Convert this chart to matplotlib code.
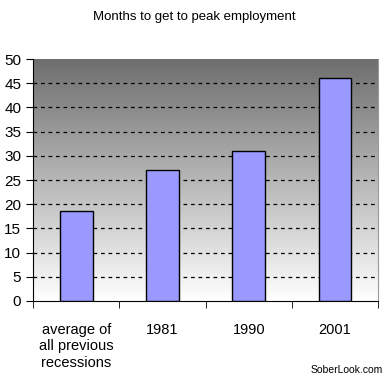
import matplotlib

matplotlib.use("Agg")
import matplotlib.pyplot as plt
import numpy as np
from matplotlib.colors import LinearSegmentedColormap

categories = ["average of\nall previous\nrecessions", "1981", "1990", "2001"]
months = [18.5, 27, 31, 46]
yticks = list(range(0, 55, 5))

plt.rcParams["font.family"] = ["Liberation Sans", "DejaVu Sans"]

fig = plt.figure(figsize=(3.89, 3.81), dpi=100)
ax = fig.add_axes([0.085, 0.21, 0.887, 0.635])

# background gradient, dark grey at top fading to white
cmap = LinearSegmentedColormap.from_list("bg", ["#ffffff", "#6e6e6e"])
grad = np.linspace(0, 1, 256).reshape(-1, 1)
ax.imshow(grad, cmap=cmap, aspect="auto", origin="lower",
          extent=[-0.5, 3.5, 0, 50], zorder=0)

x = np.arange(len(categories))
ax.bar(x, months, width=0.38, color="#9999ff", edgecolor="black",
       linewidth=1, zorder=3)

for y in yticks[1:-1]:
    ax.axhline(y, color="black", linestyle=(0, (3, 3)), linewidth=0.9, zorder=2)

ax.set_xlim(-0.5, 3.5)
ax.set_ylim(0, 50)
ax.set_yticks(yticks)
ax.set_xticks(x)
ax.set_xticklabels(categories)
ax.set_xticks(np.arange(-0.5, 4, 1), minor=True)
ax.tick_params(axis="x", which="major", length=0, pad=16, labelsize=10.5)
ax.tick_params(axis="x", which="minor", length=5, direction="out")
ax.tick_params(axis="y", length=5, direction="out", labelsize=11)

ax.spines["top"].set_visible(False)
ax.spines["right"].set_color("#999999")
ax.spines["left"].set_color("black")
ax.spines["bottom"].set_color("black")

fig.text(0.5, 0.955, "Months to get to peak employment", ha="center",
         va="center", fontsize=9.5)
fig.text(0.985, 0.03, "SoberLook.com", ha="right", va="center", fontsize=7.5)

fig.savefig("out.png", dpi=100)
